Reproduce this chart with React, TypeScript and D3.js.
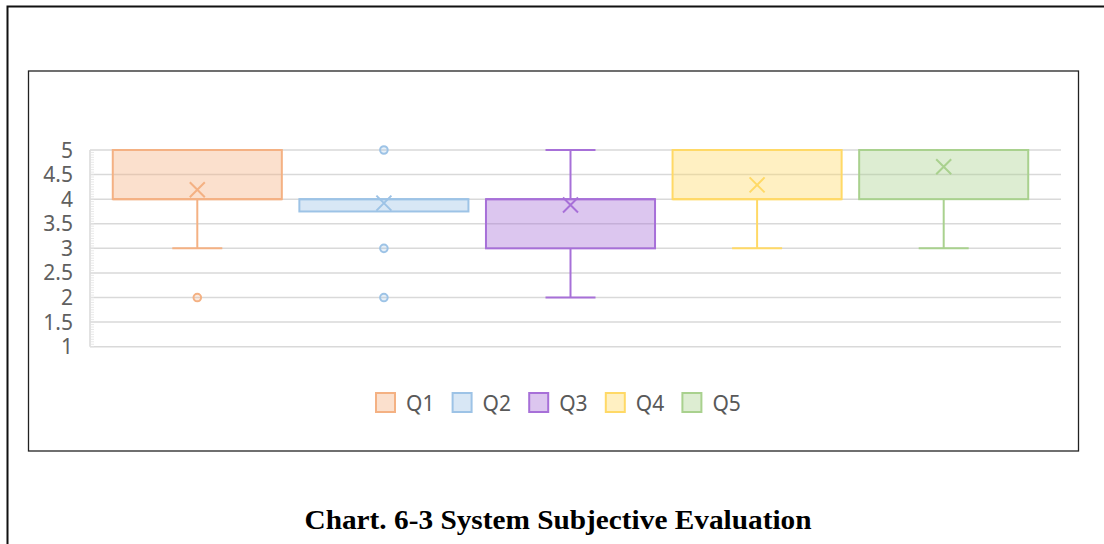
import React from "react";
import * as d3 from "d3";

const categories = ["Q1", "Q2", "Q3", "Q4", "Q5"];
const lowerQuartile = [4, 3.75, 3, 4, 4];
const upperQuartile = [5, 4, 4, 5, 5];
const medians = [4, 4, 4, 4, 5];
const whiskerLow = [3, 3.75, 2, 3, 3];
const whiskerHigh = [5, 4, 5, 5, 5];
const means = [4.19, 3.92, 3.88, 4.29, 4.66];
const outliers = [[2], [5, 3, 2], [], [], []];
const colors = ["#F4B183", "#9DC3E6", "#A770D8", "#FFD966", "#A9D18E"];
const yTicks = [1, 1.5, 2, 2.5, 3, 3.5, 4, 4.5, 5];
const title = "Chart. 6-3 System Subjective Evaluation";

export default function App() {
  const W = 1104, H = 544;
  const y = d3.scaleLinear().domain([1, 5]).range([346.7, 150]);
  const x = d3.scaleBand<string>().domain(categories).range([104, 1037]).paddingInner(0.094).paddingOuter(0.047);
  const minorTicks = d3.range(1, 5.0001, 0.05);
  const font = "'Noto Sans', 'Open Sans', sans-serif";
  const legendX = d3.scaleBand<string>().domain(categories).range([376, 759]);
  return (
    <svg width={W} height={H} style={{ position: "absolute", left: 0, top: 0, background: "#fff" }}>
      {/* outer frame */}
      <path d={`M7.5,${H} L7.5,6.5 L${W},6.5`} fill="none" stroke="#111" strokeWidth={2} />
      {/* inner frame */}
      <rect x={28.5} y={71} width={1050} height={380} fill="#fff" stroke="#222" strokeWidth={1.3} />
      {/* gridlines */}
      {yTicks.map((t) => (
        <line key={t} x1={90} x2={1061} y1={y(t)} y2={y(t)} stroke="#D9D9D9" strokeWidth={1.5} />
      ))}
      <line x1={90} x2={90} y1={y(5)} y2={y(1)} stroke="#D9D9D9" strokeWidth={1.5} />
      {minorTicks.map((t, i) => (
        <line key={i} x1={90} x2={94} y1={y(t)} y2={y(t)} stroke="#E2E2E2" strokeWidth={0.8} />
      ))}
      {yTicks.map((t) => (
        <text key={t} x={73} y={y(t)} dy="0.36em" textAnchor="end" fontFamily={font} fontSize={21} fill="#606060">
          {String(t)}
        </text>
      ))}
      {/* boxes */}
      {categories.map((c, i) => {
        const x0 = x(c)!;
        const bw = x.bandwidth();
        const cx = x0 + bw / 2;
        const col = colors[i];
        const m = y(means[i]);
        return (
          <g key={c}>
            {whiskerLow[i] < lowerQuartile[i] && (
              <g>
                <line x1={cx} x2={cx} y1={y(lowerQuartile[i])} y2={y(whiskerLow[i])} stroke={col} strokeWidth={2} />
                <line x1={cx - 25} x2={cx + 25} y1={y(whiskerLow[i])} y2={y(whiskerLow[i])} stroke={col} strokeWidth={2} />
              </g>
            )}
            {whiskerHigh[i] > upperQuartile[i] && (
              <g>
                <line x1={cx} x2={cx} y1={y(upperQuartile[i])} y2={y(whiskerHigh[i])} stroke={col} strokeWidth={2} />
                <line x1={cx - 25} x2={cx + 25} y1={y(whiskerHigh[i])} y2={y(whiskerHigh[i])} stroke={col} strokeWidth={2} />
              </g>
            )}
            <rect x={x0} y={y(upperQuartile[i])} width={bw} height={y(lowerQuartile[i]) - y(upperQuartile[i])}
              fill={col} fillOpacity={0.4} stroke={col} strokeWidth={2} />
            <line x1={x0} x2={x0 + bw} y1={y(medians[i])} y2={y(medians[i])} stroke={col} strokeWidth={2} />
            <path d={`M${cx - 7.5},${m - 7.5}L${cx + 7.5},${m + 7.5}M${cx + 7.5},${m - 7.5}L${cx - 7.5},${m + 7.5}`} stroke={col} strokeWidth={2} fill="none" />
            {outliers[i].map((o, j) => (
              <circle key={j} cx={cx} cy={y(o)} r={3.8} fill={col} fillOpacity={0.25} stroke={col} strokeWidth={2} />
            ))}
          </g>
        );
      })}
      {/* legend */}
      {categories.map((c, i) => {
        const lx = legendX(c)!;
        return (
          <g key={c}>
            <rect x={lx} y={393} width={19} height={19} fill={colors[i]} fillOpacity={0.4} stroke={colors[i]} strokeWidth={2} />
            <text x={lx + 30} y={403} dy="0.36em" fontFamily={font} fontSize={21} fill="#595959">{c}</text>
          </g>
        );
      })}
      <text x={558} y={529} textAnchor="middle" fontFamily="'Liberation Serif', 'Times New Roman', serif" fontWeight="bold" fontSize={27} textLength={507} lengthAdjust="spacingAndGlyphs" fill="#000">
        {title}
      </text>
    </svg>
  );
}
